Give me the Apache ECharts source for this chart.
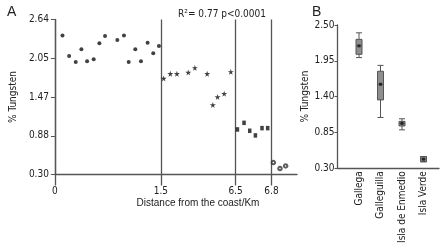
<!DOCTYPE html>
<html>
<head>
<meta charset="utf-8">
<script src="https://cdn.jsdelivr.net/npm/echarts@6/dist/echarts.min.js"></script>
<style>
html, body { margin: 0; padding: 0; background: #fff; }
#chart { width: 446px; height: 246px; }
</style>
</head>
<body>
<div id="chart"></div>
<script>
// panel A: broken distance axis, positions are offsets along the drawn axis
var xTickPos = [0, 112, 191, 229];
var xTickLabels = ['0', '1.5', '6.5', '6.8'];
var yTicksA = ['0.30', '0.88', '1.47', '2.05', '2.64'];

var pos1 = [8, 15, 22, 28, 34, 41, 47, 53, 66, 73, 78, 85, 91, 98, 104, 110];
var val1 = [2.40, 2.09, 2.00, 2.19, 2.01, 2.04, 2.28, 2.39, 2.33, 2.40, 2.00, 2.19, 2.01, 2.29, 2.13, 2.24];
var pos2 = [115, 122, 129, 141, 148, 161, 167, 172, 179, 186];
var val2 = [1.75, 1.82, 1.82, 1.84, 1.91, 1.82, 1.35, 1.47, 1.52, 1.85];
var pos3 = [193, 200, 206, 212, 219, 225];
var val3 = [0.98, 1.08, 0.96, 0.89, 1.00, 1.00];
var pos4 = [231, 238, 244];
var val4 = [0.48, 0.39, 0.43];

// panel B
var sites = ['Gallega', 'Galleguilla', 'Isla de Enmedio', 'Isla Verde'];
var boxMin = [2.00, 1.08, 0.89, 0.40];
var boxQ1 = [2.05, 1.35, 0.95, 0.40];
var boxMed = [2.18, 1.59, 0.99, 0.44];
var boxQ3 = [2.28, 1.79, 1.02, 0.48];
var boxMax = [2.38, 1.88, 1.06, 0.48];

var narrow = "'Liberation Sans Narrow', 'DejaVu Sans Condensed', sans-serif";
var lineCol = '#555';
var txtCol = '#222';

function zip(p, v) {
  return p.map(function (x, i) { return [x, v[i]]; });
}
function isTick(i) {
  return xTickPos.indexOf(i) >= 0;
}

var axisCats = [];
for (var i = 0; i <= 256; i++) axisCats.push(i);

var starPath = 'path://M50,0 L61,35 L98,35 L68,57 L79,91 L50,70 L21,91 L32,57 L2,35 L39,35 Z';

var chart = echarts.init(document.getElementById('chart'));
var option = {
  animation: false,
  textStyle: { fontFamily: narrow, color: txtCol },
  grid: [
    { left: 41, right: 149, top: 19.5, bottom: 71.5 },
    { left: 337.5, right: 7, top: 25, bottom: 73.5 }
  ],
  xAxis: [
    {
      gridIndex: 0,
      type: 'category',
      data: axisCats,
      boundaryGap: false,
      axisLine: { lineStyle: { color: lineCol, width: 1.3 } },
      axisTick: { show: true, interval: isTick, length: 11, lineStyle: { color: lineCol, width: 1.3 } },
      axisLabel: {
        interval: isTick,
        margin: 12,
        fontSize: 10,
        fontFamily: narrow,
        color: txtCol,
        formatter: function (v) {
          var k = xTickPos.indexOf(Number(v));
          return k >= 0 ? xTickLabels[k] : '';
        }
      },
      splitLine: { show: true, interval: isTick, lineStyle: { color: lineCol, width: 1.3 } }
    },
    {
      gridIndex: 1,
      type: 'value',
      min: 0,
      max: 4.72,
      interval: 1,
      axisLine: { lineStyle: { color: lineCol, width: 1.3 } },
      axisTick: { show: false },
      splitLine: { show: false },
      axisLabel: {
        rotate: 90,
        margin: 3,
        fontSize: 10,
        fontFamily: narrow,
        color: txtCol,
        formatter: function (v) {
          var r = Math.round(v);
          if (Math.abs(v - r) > 1e-6) return '';
          return sites[r - 1] || '';
        }
      }
    }
  ],
  yAxis: [
    {
      gridIndex: 0,
      type: 'value',
      min: 0.30,
      max: 2.64,
      interval: 0.585,
      name: '% Tungsten',
      nameLocation: 'middle',
      nameGap: 27,
      nameTextStyle: { fontSize: 10, fontFamily: narrow, color: txtCol },
      axisLine: { show: true, lineStyle: { color: lineCol, width: 1.3 } },
      axisTick: { show: true, length: 4, lineStyle: { color: lineCol } },
      splitLine: { show: false },
      axisLabel: {
        margin: 6,
        fontSize: 10,
        fontFamily: narrow,
        color: txtCol,
        formatter: function (v) {
          return yTicksA[Math.round((v - 0.30) / 0.585)] || '';
        }
      }
    },
    {
      gridIndex: 1,
      type: 'value',
      min: 0.30,
      max: 2.50,
      interval: 0.55,
      name: '% Tungsten',
      nameLocation: 'middle',
      nameGap: 18,
      nameTextStyle: { fontSize: 10, fontFamily: narrow, color: txtCol },
      axisLine: { show: true, lineStyle: { color: lineCol, width: 1.3 } },
      axisTick: { show: true, length: 3, lineStyle: { color: lineCol } },
      splitLine: { show: false },
      axisLabel: {
        margin: 3,
        fontSize: 10,
        fontFamily: narrow,
        color: txtCol,
        formatter: function (v) { return v.toFixed(2); }
      }
    }
  ],
  series: [
    {
      type: 'scatter', xAxisIndex: 0, yAxisIndex: 0,
      symbol: 'circle', symbolSize: 4,
      itemStyle: { color: '#111' },
      data: zip(pos1, val1)
    },
    {
      type: 'scatter', xAxisIndex: 0, yAxisIndex: 0,
      symbol: starPath, symbolSize: 6,
      itemStyle: { color: '#111' },
      data: zip(pos2, val2)
    },
    {
      type: 'scatter', xAxisIndex: 0, yAxisIndex: 0,
      symbol: 'rect', symbolSize: [3.5, 4.5],
      itemStyle: { color: '#111' },
      data: zip(pos3, val3)
    },
    {
      type: 'scatter', xAxisIndex: 0, yAxisIndex: 0,
      symbol: 'emptyCircle', symbolSize: 3.5,
      itemStyle: { color: '#333', borderWidth: 0.5 },
      data: zip(pos4, val4)
    },
    {
      type: 'boxplot', xAxisIndex: 1, yAxisIndex: 1,
      layout: 'horizontal',
      boxWidth: [6, 6],
      itemStyle: { color: '#8e8e8e', borderColor: '#555', borderWidth: 1 },
      data: sites.map(function (s, i) {
        return [i + 1, boxMin[i], boxQ1[i], boxMed[i], boxQ3[i], boxMax[i]];
      })
    },
    {
      type: 'scatter', xAxisIndex: 1, yAxisIndex: 1,
      symbol: 'rect', symbolSize: 3,
      itemStyle: { color: '#111' },
      data: sites.map(function (s, i) { return [i + 1, boxMed[i]]; })
    }
  ],
  graphic: [
    { type: 'text', x: 7, y: 5, style: { text: 'A', font: "14px 'Liberation Sans', sans-serif", fill: txtCol } },
    { type: 'text', x: 312, y: 5, style: { text: 'B', font: "14px 'Liberation Sans', sans-serif", fill: txtCol } },
    {
      type: 'text', x: 222, y: 14,
      style: { text: 'R\u00b2= 0.77 p<0.0001', font: "10px " + narrow, fill: txtCol, textAlign: 'center', textVerticalAlign: 'middle' }
    },
    {
      type: 'text', x: 198, y: 203,
      style: { text: 'Distance from the coast/Km', font: "10px 'Liberation Sans', sans-serif", fill: txtCol, textAlign: 'center', textVerticalAlign: 'middle' }
    }
  ]
};
chart.setOption(option);
</script>
</body>
</html>
